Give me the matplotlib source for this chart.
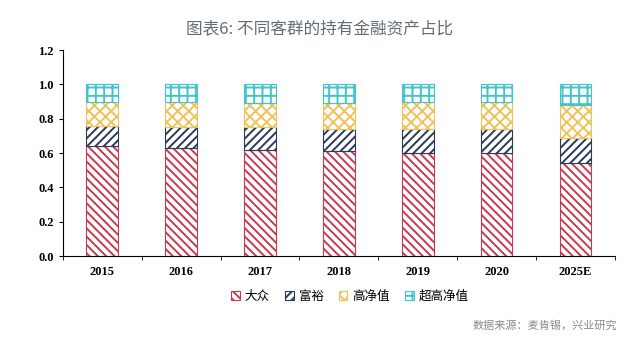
import matplotlib.pyplot as plt
import numpy as np

plt.rcParams['font.family'] = ['Noto Sans CJK SC', 'DejaVu Sans']
plt.rcParams['hatch.linewidth'] = 1.4

# data
years = ['2015', '2016', '2017', '2018', '2019', '2020', '2025E']
mass = [0.64, 0.63, 0.62, 0.61, 0.60, 0.60, 0.54]
affluent = [0.12, 0.12, 0.13, 0.13, 0.14, 0.14, 0.15]
hnw = [0.14, 0.15, 0.14, 0.15, 0.16, 0.16, 0.19]
uhnw = [0.10, 0.10, 0.11, 0.11, 0.10, 0.10, 0.12]
series_names = ['大众', '富裕', '高净值', '超高净值']

fig = plt.figure(figsize=(6.4, 3.41), dpi=100)
ax = fig.add_axes([0.098, 0.249, 0.863, 0.604])

x = np.arange(len(years))
colors = ['#c83a50', '#2a3a58', '#f0c35a', '#45c3cc']
hatches = ['\\\\\\\\', '////', 'xxx', '++']
bottom = np.zeros(len(years))
for vals, name, c, h in zip([mass, affluent, hnw, uhnw], series_names, colors, hatches):
    ax.bar(x, vals, 0.4, bottom=bottom, facecolor='white', edgecolor=c,
           hatch=h, linewidth=0.8, label=name)
    bottom += np.array(vals)

ax.set_xlim(-0.5, len(years) - 0.5)
ax.set_ylim(0, 1.2)
ax.set_yticks(np.arange(0, 1.21, 0.2))
ax.set_yticklabels(['%.1f' % v for v in np.arange(0, 1.21, 0.2)],
                   family='Liberation Serif', fontweight='bold', fontsize=9)
ax.set_xticks(x)
ax.set_xticklabels(years, family='Liberation Serif', fontweight='bold', fontsize=9)
ax.set_xticks(np.arange(-0.5, len(years)), minor=True)
ax.tick_params(axis='x', which='major', length=0, pad=7)
ax.tick_params(axis='x', which='minor', length=3, direction='out')
ax.tick_params(axis='y', length=3, direction='out')
for s in ['top', 'right']:
    ax.spines[s].set_visible(False)

ax.legend(loc='upper center', bbox_to_anchor=(0.52, -0.11), ncol=4, frameon=False,
          handlelength=0.7, handleheight=0.7, handletextpad=0.4, columnspacing=1.2,
          fontsize=9)

fig.text(0.5, 0.915, '图表6: 不同客群的持有金融资产占比', ha='center', va='center',
         fontsize=12, color='#646c78')
fig.text(0.965, 0.045, '数据来源：麦肯锡，兴业研究', ha='right', va='center',
         fontsize=8, color='#8a8a8a')

fig.savefig('out.png', dpi=100)
